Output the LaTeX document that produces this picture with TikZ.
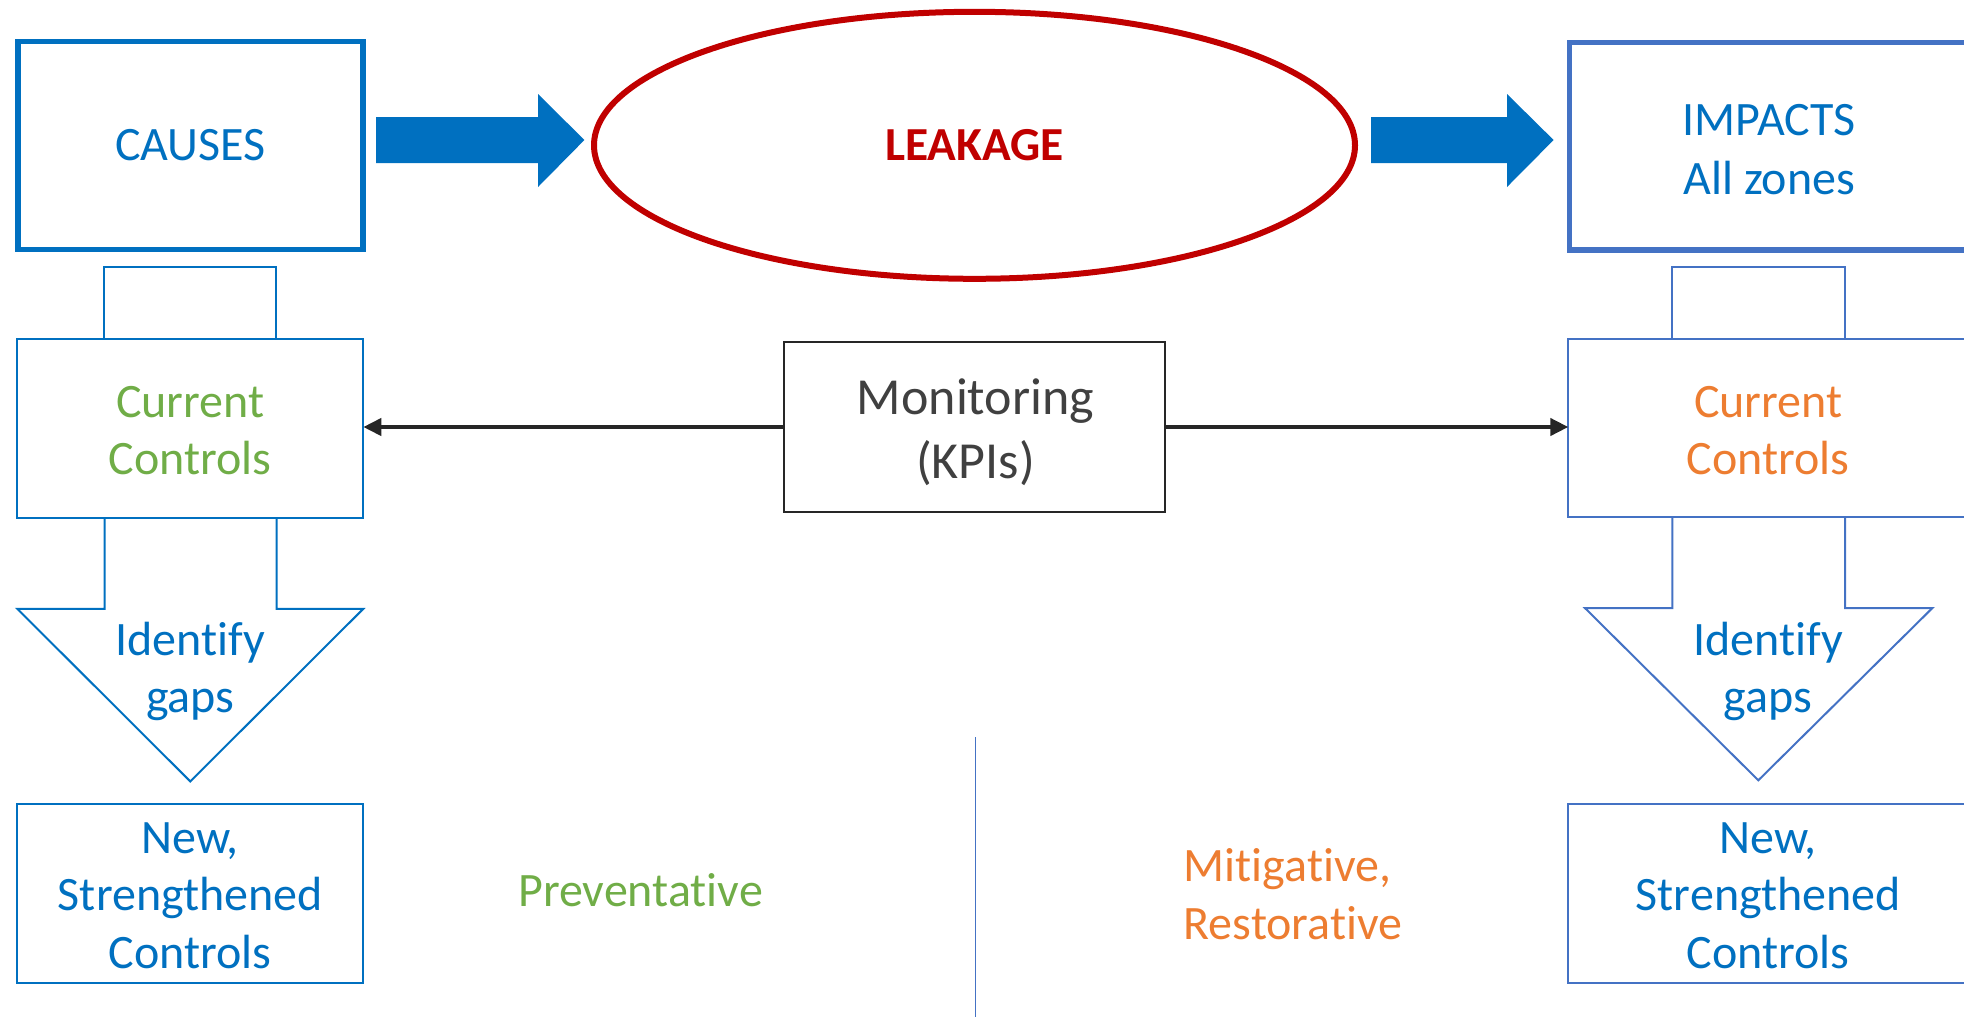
\documentclass[tikz,border=0pt]{standalone}
\usepackage{fontspec}
\setmainfont{Carlito}[Ligatures=NoCommon]
\usetikzlibrary{arrows.meta,shapes.geometric}
\definecolor{cblue}{HTML}{0070C0}
\definecolor{iblue}{HTML}{4472C4}
\definecolor{cred}{HTML}{C00000}
\definecolor{cgreen}{HTML}{70AD47}
\definecolor{corange}{HTML}{ED7D31}
\definecolor{mtext}{HTML}{404040}
\definecolor{mline}{HTML}{262626}
\tikzset{
  bigbox/.style={draw=cblue, line width=2.75pt, outer sep=0pt, inner sep=0pt, align=center},
  smallbox/.style={draw=cblue, line width=1pt, outer sep=0pt, inner sep=0pt, align=center},
  fsbig/.style={font=\fontsize{24pt}{29.5pt}\selectfont},
  fsmid/.style={font=\fontsize{24pt}{28.5pt}\selectfont},
  fsnew/.style={font=\fontsize{24pt}{28.75pt}\selectfont},
  fsmon/.style={font=\fontsize{26pt}{32pt}\selectfont},
  fslab/.style={font=\fontsize{24pt}{29pt}\selectfont},
  conn/.style={draw=mline, line width=2pt, -{Triangle[length=9pt,width=8.5pt]}},
  blockarrow/.style={fill=cblue, draw=none},
  gapsarrow/.style={line width=1pt, line join=miter}
}
\begin{document}
\begin{tikzpicture}[x=0.5pt,y=-0.5pt]
\useasboundingbox (0,0) rectangle (1964,1019);
\clip (0,0) rectangle (1964,1019);

% top row
\node[bigbox, minimum width=172.5pt, minimum height=104pt, text=cblue, fsbig] (causes) at (190.5,145.5) {\raisebox{-1pt}{CAUSES}};
\node[ellipse, draw=cred, line width=3pt, minimum width=380.5pt, minimum height=133.5pt, inner sep=0pt,
      text=cred, font=\bfseries\fontsize{23.7pt}{28pt}\selectfont] (leak) at (974.5,145.3) {LEAKAGE};
\node[bigbox, draw=iblue, minimum width=199.75pt, minimum height=103.75pt, text=cblue, fsbig] (impacts) at (1769.25,146.25) {\rule{0pt}{19pt}IMPACTS\\All zones};

\fill[blockarrow] (376,117) -- (538,117) -- (538,94) -- (584.4,140) -- (538,187) -- (538,163) -- (376,163) -- cycle;
\fill[blockarrow] (1371,117) -- (1507,117) -- (1507,94) -- (1553.6,140) -- (1507,187) -- (1507,163) -- (1371,163) -- cycle;

% left column
\node[smallbox, minimum width=173pt, minimum height=89.45pt, text=cgreen, fsmid] (lcc) at (190.3,428.15) {\rule{0pt}{18.5pt}Current\\Controls};
\node[smallbox, minimum width=86pt, minimum height=35.85pt, anchor=south] (ltab) at (lcc.north) {};
\draw[cblue, gapsarrow] (104.7,517.6) -- (104.7,608.8) -- (17.3,608.8) -- (190.3,781.4) -- (363.3,608.8) -- (276.7,608.8) -- (276.7,517.6);
\node[text=cblue, fsmid, align=center] (lgaps) at (190.3,671) {Identify\\gaps};
\node[smallbox, minimum width=173pt, minimum height=89.2pt, text=cblue, fsnew] (lnew) at (190.3,893.5) {\rule{0pt}{17.5pt}New,\\Strengthened\\Controls};

% right column
\node[smallbox, draw=iblue, minimum width=199.85pt, minimum height=89.3pt, text=corange, fsmid] (rcc) at (1768.2,428) {\rule{0pt}{18.5pt}Current\\Controls};
\node[smallbox, draw=iblue, minimum width=86.35pt, minimum height=35.85pt, anchor=south] (rtab) at (1758.7,338.7) {};
\draw[iblue, gapsarrow] (1672.3,517.3) -- (1672.3,608.1) -- (1585,608.1) -- (1758.3,780.3) -- (1932.3,608.1) -- (1845,608.1) -- (1845,517.3);
\node[text=cblue, fsmid, align=center] (rgaps) at (1768,671) {Identify\\gaps};
\node[smallbox, draw=iblue, minimum width=199.85pt, minimum height=89.2pt, text=cblue, fsnew] (rnew) at (1768.2,893.5) {\rule{0pt}{17.5pt}New,\\Strengthened\\Controls};

% monitoring
\node[draw=mline, line width=1pt, outer sep=0pt, minimum width=190.6pt, minimum height=84.7pt] (mon) at (974.8,427) {};
\node[text=mtext, fsmon, align=center] (montext) at (975.5,432) {Monitoring\\(KPIs)};
\draw[conn] (mon.west) -- (mon.west -| lcc.east);
\draw[conn] (mon.east) -- (mon.east -| rcc.west);

% bottom labels
\draw[iblue, line width=0.5pt] (975,737) -- (975,1017);
\node[text=cgreen, fslab, anchor=base] (prev) at (640.5,906) {Preventative};
\node[text=corange, fslab, align=left] (mitig) at (1293,894) {Mitigative,\\Restorative};
\end{tikzpicture}
\end{document}
